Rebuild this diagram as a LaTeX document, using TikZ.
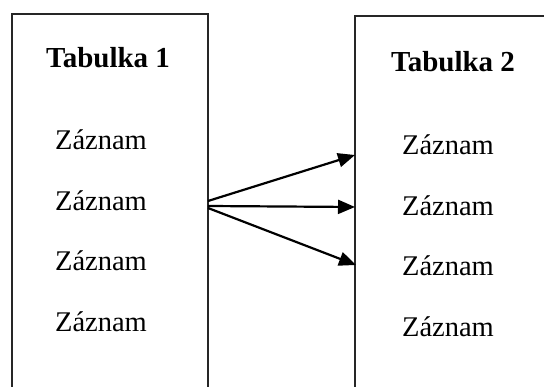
\documentclass[tikz,border=0pt]{standalone}
\usepackage{fontspec}
\setmainfont{Liberation Serif}
\usetikzlibrary{arrows.meta}
\begin{document}
\begin{tikzpicture}[x=1pt,y=-1pt,
  tablebox/.style={draw=black!85,line width=1.7pt},
  title/.style={anchor=base,inner sep=0pt,font=\fontsize{29}{32}\selectfont\bfseries},
  record/.style={anchor=base,inner sep=0pt,font=\fontsize{28.5}{32}\selectfont},
  link/.style={line width=2.2pt,-{Triangle[length=17pt,width=14pt]}}]
  \useasboundingbox (0,0) rectangle (544,387);
  \clip (0,0) rectangle (544,387);
  \fill[white] (0,0) rectangle (544,387);

  % the two tables, running off the page
  \draw[tablebox] (12,14) rectangle (208,400);
  \draw[tablebox] (355,16) rectangle (560,400);

  % first table
  \node[title]  (t1)  at (108,68)  {Tabulka 1};
  \node[record] (a1)  at (101,150) {Záznam};
  \node[record] (a2)  at (101,211) {Záznam};
  \node[record] (a3)  at (101,271) {Záznam};
  \node[record] (a4)  at (101,332) {Záznam};

  % second table
  \node[title]  (t2)  at (453,72)  {Tabulka 2};
  \node[record] (b1)  at (448,155) {Záznam};
  \node[record] (b2)  at (448,216) {Záznam};
  \node[record] (b3)  at (448,276) {Záznam};
  \node[record] (b4)  at (448,337) {Záznam};

  % relation ends on the table edges
  \coordinate (s1) at (208,201);
  \coordinate (s2) at (208,206);
  \coordinate (s3) at (208,208);
  \coordinate (e1) at (355,155);
  \coordinate (e2) at (355,207);
  \coordinate (e3) at (356,265);

  \draw[link] (s1) -- (e1);
  \draw[link] (s2) -- (e2);
  \draw[link] (s3) -- (e3);
\end{tikzpicture}
\end{document}
